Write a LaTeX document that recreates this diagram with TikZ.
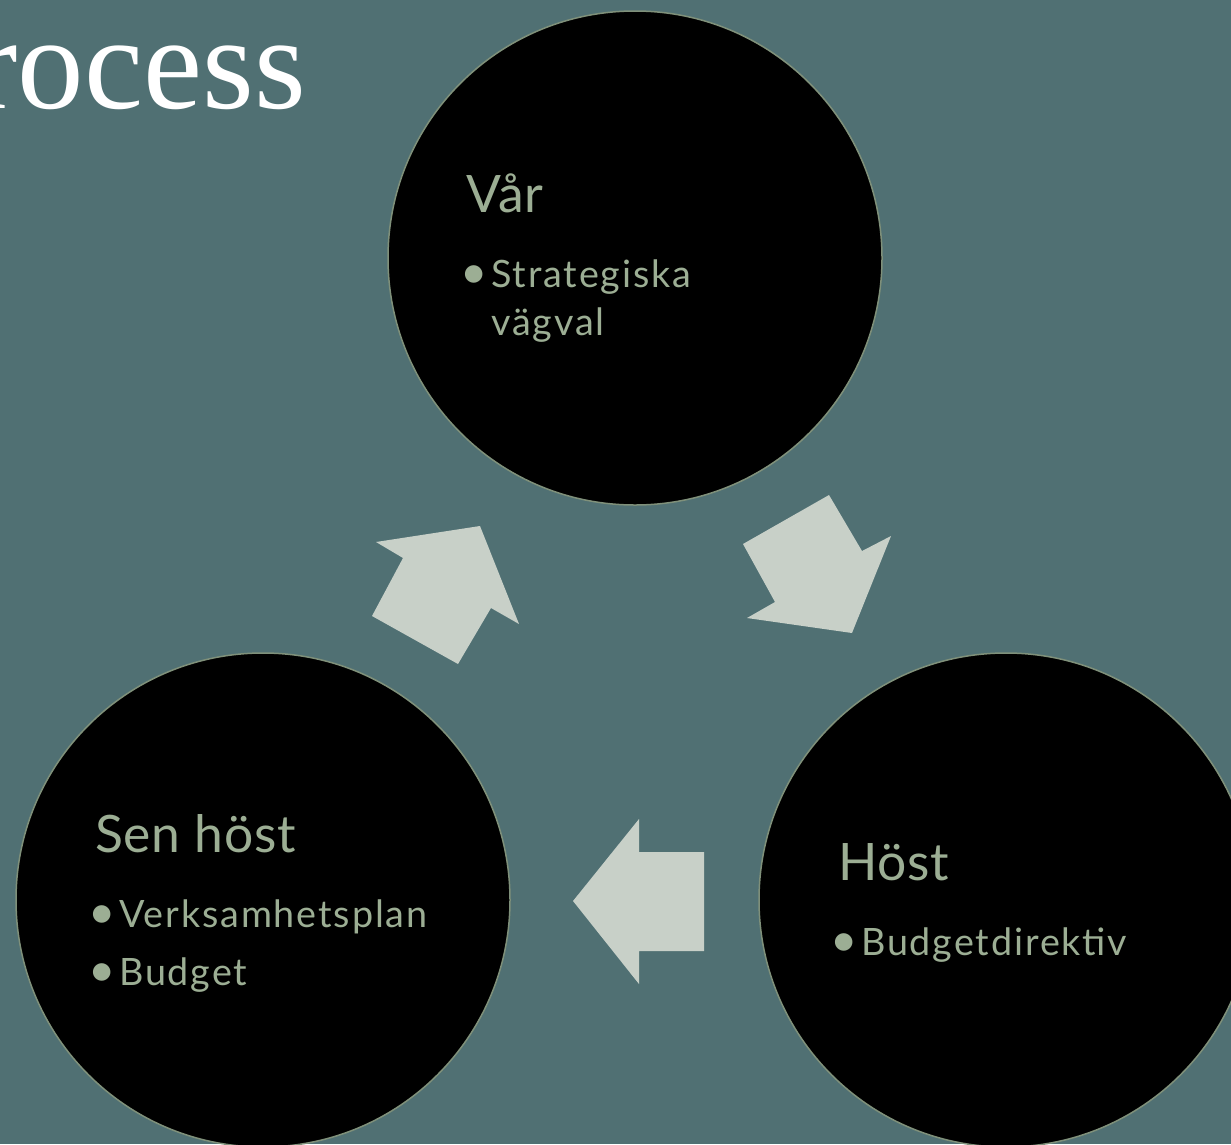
\documentclass[tikz,border=0pt]{standalone}
\usepackage{fontspec}
\setmainfont{Lato}
\newfontfamily\titlefont{Liberation Serif}
\newfontfamily\bodyfont[LetterSpace=5]{Lato}
\newfontfamily\headfont[LetterSpace=1.5]{Lato}
\definecolor{bg}{HTML}{507073}
\definecolor{arrowc}{HTML}{C8D0C8}
\definecolor{txt}{HTML}{9CAE94}
\definecolor{ring}{HTML}{7F907A}
\tikzset{
  phase/.style={circle, fill=black, draw=ring, line width=1.5pt, inner sep=0pt, minimum size=494pt},
  head/.style={text=txt, inner sep=0pt, anchor=base west, font=\headfont\fontsize{51.6}{60}\selectfont},
  item/.style={text=txt, inner sep=0pt, anchor=base west, font=\bodyfont\fontsize{37.7}{45}\selectfont},
  blockarrow/.style={fill=arrowc},
}
\newcommand{\bul}{\llap{\raisebox{-1.5pt}{\scalebox{1.25}{•}}\hspace{3pt}}}
\begin{document}
\begin{tikzpicture}[x=1pt,y=-1pt]
\useasboundingbox (0,0) rectangle (1231,1144);
\fill[bg] (0,0) rectangle (1231,1144);
\clip (0,0) rectangle (1231,1144);
% title
\node[text=white, inner sep=0pt, anchor=base east, font=\titlefont\fontsize{133}{140}\selectfont] (title) at (306,108) {Process};
% circles
\node[phase] (var) at (635,258) {};
\node[phase] (senhost) at (263,900) {};
\node[phase] (host) at (1006,900) {};
% block arrows
\fill[blockarrow] (480,526) -- (519,624) -- (491,608) -- (458,664) -- (372,616) -- (403,558) -- (376,542) -- cycle;
\fill[blockarrow] (829,495) -- (862,551) -- (891,536) -- (852,633) -- (747,618) -- (775,602) -- (743,544) -- cycle;
\fill[blockarrow] (573,901) -- (639,819) -- (639,852) -- (704,852) -- (704,951) -- (639,951) -- (639,984) -- cycle;
% texts
\node[head] (varT) at (466,212) {Vår};
\node[item] (var1) at (491,287) {\bul Strategiska};
\node[item] (var1b) at (491,335) {vägval};
\node[head] (senT) at (95,852) {Sen höst};
\node[item] (sen1) at (119,927) {\bul Verksamhetsplan};
\node[item] (sen2) at (119,985) {\bul Budget};
\node[head] (hostT) at (838,880) {Höst};
\node[item] (host1) at (861,955) {\bul Budgetdirektiv};
\end{tikzpicture}
\end{document}
